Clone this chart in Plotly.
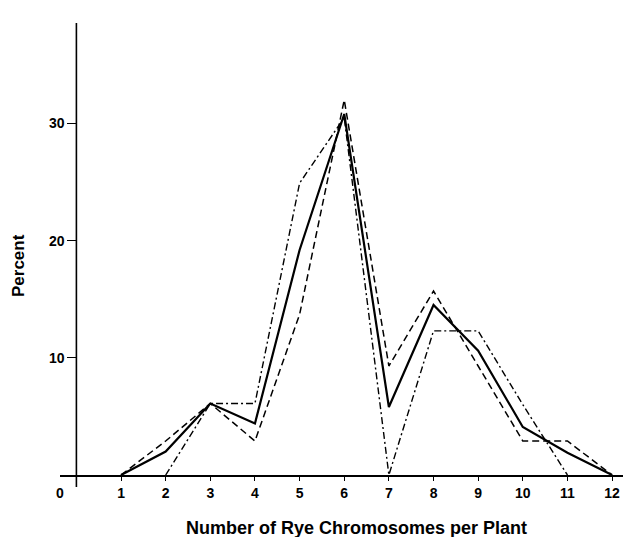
import plotly.graph_objects as go

# Data (percent of plants by number of rye chromosomes)
chromosomes = [1, 2, 3, 4, 5, 6, 7, 8, 9, 10, 11, 12]
solid_pct = [0, 2.0, 6.1, 4.4, 19.2, 30.8, 5.8, 14.5, 10.6, 4.1, 1.9, 0]
dashed_pct = [0, 2.9, 6.1, 2.9, 13.7, 32.0, 9.3, 15.7, 9.3, 2.9, 2.9, 0]
dashdot_pct = [None, 0, 6.1, 6.1, 24.9, 30.5, 0, 12.3, 12.3, 6.0, 0, None]
y_ticks = [10, 20, 30]
x_ticks = chromosomes

W, H = 623, 537
L, R, T, B = 60, 0, 23, 62
x0_px = 76.4
px_per_x = 44.64
xmin = (L - x0_px) / px_per_x
xmax = (W - R - x0_px) / px_per_x
plot_h = H - T - B
plot_w = W - L - R
ymax = plot_h / 11.72

fig = go.Figure()
fig.add_trace(go.Scatter(x=chromosomes, y=dashdot_pct, mode="lines",
                         line=dict(color="black", width=1.4, dash="7px,3px,2px,3px"),
                         connectgaps=False, showlegend=False))
fig.add_trace(go.Scatter(x=chromosomes, y=dashed_pct, mode="lines",
                         line=dict(color="black", width=1.5, dash="7px,4px"),
                         showlegend=False))
fig.add_trace(go.Scatter(x=chromosomes, y=solid_pct, mode="lines",
                         line=dict(color="black", width=2.2),
                         showlegend=False))

font = "Liberation Sans, Arial, Helvetica, sans-serif"

fig.update_layout(
    width=W, height=H,
    margin=dict(l=L, r=R, t=T, b=B, pad=0),
    paper_bgcolor="white", plot_bgcolor="white",
    font=dict(family=font, color="black"),
    xaxis=dict(range=[xmin, xmax], tickvals=x_ticks, ticks="outside", ticklen=4,
               tickwidth=1.2, tickcolor="black", showline=True, linecolor="black",
               linewidth=1.5, showgrid=False, zeroline=False, automargin=False,
               tickfont=dict(size=14, family=font, weight="bold")),
    yaxis=dict(range=[0, ymax], tickvals=y_ticks, ticks="outside", ticklen=9,
               tickwidth=1.2, tickcolor="black", showline=False, showgrid=False,
               zeroline=False, anchor="free", position=(x0_px - L) / plot_w,
               automargin=False,
               tickfont=dict(size=14, family=font, weight="bold")),
    shapes=[dict(type="line", xref="x", yref="paper", x0=0, x1=0,
                 y0=-12 / plot_h, y1=1, line=dict(color="black", width=1.6))],
    annotations=[
        dict(text="0", xref="paper", yref="paper", x=0, y=-18 / plot_h,
             xanchor="center", yanchor="middle", showarrow=False,
             font=dict(size=14, family=font, weight="bold")),
        dict(text="Number of Rye Chromosomes per Plant", xref="paper", yref="paper",
             x=(356.5 - L) / plot_w, y=-(528 - (H - B)) / plot_h,
             xanchor="center", yanchor="middle", showarrow=False,
             font=dict(size=18, family=font, weight="bold")),
        dict(text="Percent", xref="paper", yref="paper",
             x=(18 - L) / plot_w, y=(H - B - 266) / plot_h, textangle=-90,
             xanchor="center", yanchor="middle", showarrow=False,
             font=dict(size=17, family=font, weight="bold")),
    ],
)

fig.write_html("out.html", config={"displayModeBar": False},
               post_script="document.body.style.margin='0';document.body.style.padding='0';")
